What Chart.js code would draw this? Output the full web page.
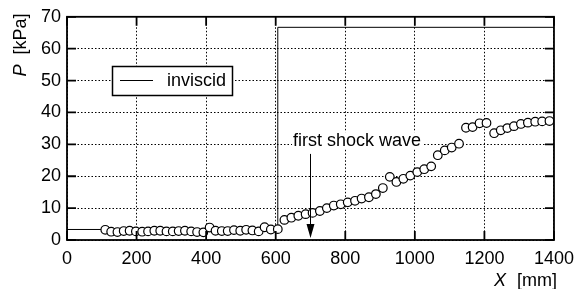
<!DOCTYPE html>
<html lang="en">
<head>
  <meta charset="UTF-8" />
  <title>P vs X</title>
  <script src="https://cdn.jsdelivr.net/npm/chart.js@4.4.0/dist/chart.umd.min.js"></script>
  <style>
    body { margin: 0; background: #fff; }
    canvas { display: block; }
  </style>
</head>
<body>
  <canvas id="chart" width="582" height="289"></canvas>

  <script>
    // inviscid solution (step)
    const xInviscid = [0, 606, 606, 1400];
    const pInviscid = [3.3, 3.3, 66.7, 66.7];

    // measured pressure (circles)
    const xMeasured = [110, 127, 145, 163, 180, 198, 216, 233, 251, 268, 286, 304, 321, 339, 357,
      374, 392, 410, 427, 445, 462, 480, 498, 515, 533, 551, 568, 586, 606,
      625, 645, 665, 686, 706, 727, 747, 767, 787, 807, 828, 847, 868, 888, 908, 928, 947, 967,
      987, 1007, 1027, 1047, 1066, 1086, 1106, 1127, 1147, 1166, 1186, 1206, 1228, 1247, 1266,
      1285, 1305, 1325, 1346, 1366, 1387];
    const pMeasured = [3.2, 2.6, 2.5, 2.8, 2.9, 2.7, 2.6, 2.7, 2.9, 2.9, 2.7, 2.7, 2.8, 2.9, 2.7,
      2.5, 2.4, 3.9, 2.9, 2.8, 2.8, 3.1, 2.9, 3.2, 3.0, 2.7, 4.0, 3.3, 3.4,
      6.3, 7.0, 7.6, 8.1, 8.5, 9.1, 10.0, 10.8, 11.2, 11.8, 12.3, 13.0, 13.4, 14.4, 16.3, 19.8, 18.2, 19.2,
      20.2, 21.3, 22.2, 23.1, 26.6, 28.1, 29.0, 30.2, 35.2, 35.4, 36.6, 36.7, 33.5, 34.4, 35.1,
      35.7, 36.4, 36.8, 37.1, 37.2, 37.3];

    const xTicks = [0, 200, 400, 600, 800, 1000, 1200, 1400];
    const yTicks = [0, 10, 20, 30, 40, 50, 60, 70];

    const shockX = 700;
    const shockLabel = 'first shock wave';

    const FONT = '"Liberation Sans", Arial, sans-serif';

    const toPoints = (xs, ys) => xs.map((x, i) => ({ x: x, y: ys[i] }));

    // box, inward ticks, legend, labels
    const decorations = {
      id: 'decorations',
      afterDraw(chart) {
        const ctx = chart.ctx;
        const a = chart.chartArea;
        const sx = chart.scales.x, sy = chart.scales.y;
        ctx.save();

        // inward ticks on all four sides
        ctx.strokeStyle = '#000';
        ctx.lineWidth = 1.8;
        const tl = 9;
        ctx.beginPath();
        xTicks.forEach(v => {
          const px = sx.getPixelForValue(v);
          ctx.moveTo(px, a.bottom); ctx.lineTo(px, a.bottom - tl);
          ctx.moveTo(px, a.top); ctx.lineTo(px, a.top + tl);
        });
        yTicks.forEach(v => {
          const py = sy.getPixelForValue(v);
          ctx.moveTo(a.left, py); ctx.lineTo(a.left + tl, py);
          ctx.moveTo(a.right, py); ctx.lineTo(a.right - tl, py);
        });
        ctx.stroke();

        // frame
        ctx.lineWidth = 1.8;
        ctx.strokeRect(a.left, a.top, a.right - a.left, a.bottom - a.top);

        // legend
        ctx.fillStyle = '#fff';
        ctx.fillRect(112, 66, 121, 29);
        ctx.lineWidth = 1.5;
        ctx.strokeRect(112.5, 66.5, 120, 29);
        ctx.lineWidth = 1;
        ctx.beginPath();
        ctx.moveTo(120, 80.5); ctx.lineTo(153, 80.5);
        ctx.stroke();
        ctx.fillStyle = '#000';
        ctx.font = '18px ' + FONT;
        ctx.textAlign = 'left';
        ctx.textBaseline = 'middle';
        ctx.fillText('inviscid', 167, 81);

        // annotation text
        const lx = sx.getPixelForValue(834), ly = sy.getPixelForValue(31);
        const tw = ctx.measureText(shockLabel).width;
        ctx.fillStyle = '#fff';
        ctx.fillRect(lx - tw / 2 - 1, ly - 9, tw + 2, 17);
        ctx.fillStyle = '#000';
        ctx.textAlign = 'center';
        ctx.fillText(shockLabel, lx, ly);

        // arrow
        const ax = Math.round(sx.getPixelForValue(shockX)) + 0.5;
        const aTop = sy.getPixelForValue(27), aTip = sy.getPixelForValue(0.6);
        ctx.lineWidth = 1;
        ctx.beginPath();
        ctx.moveTo(ax, aTop); ctx.lineTo(ax, aTip - 10);
        ctx.stroke();
        ctx.beginPath();
        ctx.moveTo(ax - 4, aTip - 14);
        ctx.lineTo(ax + 4, aTip - 14);
        ctx.lineTo(ax, aTip);
        ctx.closePath();
        ctx.fill();

        // axis titles
        ctx.textBaseline = 'middle';
        // y title, rotated
        ctx.save();
        ctx.translate(21, 45);
        ctx.rotate(-Math.PI / 2);
        ctx.font = 'italic 18px ' + FONT;
        const wP = ctx.measureText('P').width;
        ctx.font = '18px ' + FONT;
        const wU = ctx.measureText('  [kPa]').width;
        const start = -(wP + wU) / 2;
        ctx.textAlign = 'left';
        ctx.font = 'italic 18px ' + FONT;
        ctx.fillText('P', start, 0);
        ctx.font = '18px ' + FONT;
        ctx.fillText('  [kPa]', start + wP, 0);
        ctx.restore();

        // x title
        ctx.textAlign = 'left';
        ctx.font = 'italic 18px ' + FONT;
        ctx.fillText('X', 494, 281);
        ctx.font = '18px ' + FONT;
        ctx.fillText('[mm]', 517, 281);

        ctx.restore();
      }
    };

    new Chart(document.getElementById('chart'), {
      type: 'scatter',
      data: {
        datasets: [
          {
            label: 'inviscid',
            data: toPoints(xInviscid, pInviscid),
            showLine: true,
            borderColor: '#000',
            borderWidth: 1,
            pointRadius: 0,
            tension: 0,
            order: 2
          },
          {
            label: 'measured',
            data: toPoints(xMeasured, pMeasured),
            showLine: false,
            pointStyle: 'circle',
            pointRadius: 4.3,
            pointBackgroundColor: '#fff',
            pointBorderColor: '#000',
            pointBorderWidth: 1.2,
            order: 1
          }
        ]
      },
      options: {
        responsive: false,
        animation: false,
        devicePixelRatio: 1,
        layout: { padding: { left: 0, top: 16, right: 27, bottom: 0 } },
        plugins: {
          legend: { display: false },
          tooltip: { enabled: false }
        },
        scales: {
          x: {
            type: 'linear',
            min: 0,
            max: 1400,
            afterBuildTicks: s => { s.ticks = xTicks.map(v => ({ value: v })); },
            afterFit: s => { s.height = 49; },
            ticks: {
              color: '#000',
              font: { family: FONT, size: 18 },
              padding: 8,
              maxRotation: 0,
              callback: v => String(v)
            },
            grid: { color: '#000', lineWidth: 1, drawTicks: false },
            border: { display: false, dash: [1.5, 2] }
          },
          y: {
            type: 'linear',
            min: 0,
            max: 70,
            afterBuildTicks: s => { s.ticks = yTicks.map(v => ({ value: v })); },
            afterFit: s => { s.width = 67; },
            ticks: {
              color: '#000',
              font: { family: FONT, size: 18 },
              padding: 6,
              callback: v => String(v)
            },
            grid: { color: '#000', lineWidth: 1, drawTicks: false },
            border: { display: false, dash: [1.5, 2] }
          }
        }
      },
      plugins: [decorations]
    });
  </script>
</body>
</html>
